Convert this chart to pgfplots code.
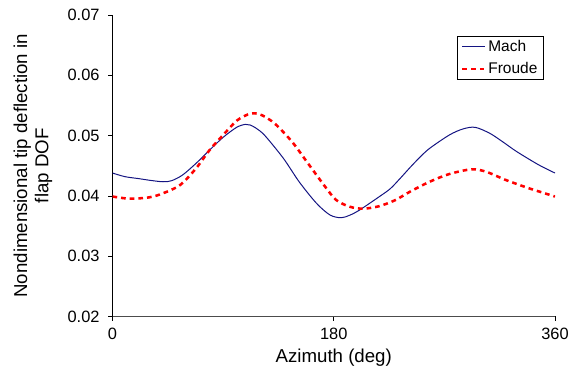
\documentclass[border=0pt]{standalone}
\usepackage{pgfplots}
\pgfplotsset{compat=1.18}
\usepackage{fontspec}
\setmainfont{Liberation Sans}
\definecolor{machblue}{RGB}{20,20,130}
\begin{document}
\begin{tikzpicture}
\useasboundingbox (-84.4pt,-43.1pt) rectangle (343.9pt,237.4pt);
\begin{axis}[
  at={(0,0)}, anchor=south west,
  scale only axis,
  width=331.9pt, height=226.1pt,
  xmin=0, xmax=360, ymin=0.02, ymax=0.07,
  axis x line=bottom, axis y line=left,
  axis line style={-, black, line width=0.8pt},
  x axis line style={black!70},
  tick align=outside,
  major tick length=3.2pt,
  tick style={black, line width=0.6pt},
  xtick={0,180,360},
  ytick={0.02,0.03,0.04,0.05,0.06,0.07},
  /pgf/number format/assume math mode=true,
  yticklabel style={/pgf/number format/fixed, /pgf/number format/fixed zerofill, /pgf/number format/precision=2, xshift=-3pt},
  xticklabel style={yshift=-2pt},
  scaled y ticks=false,
  ticklabel style={font=\fontsize{12.3}{14}\selectfont},
  xlabel={Azimuth (deg)},
  ylabel={Nondimensional tip deflection in\\flap DOF},
  every axis x label/.style={at={(axis description cs:0.5,-0.138)}, anchor=center, font=\fontsize{14}{16}\selectfont},
  every axis y label/.style={at={(axis description cs:-0.18,0.5)}, anchor=center, rotate=90, align=center, font=\fontsize{14}{16}\selectfont},
  legend style={at={(axis description cs:0.778,0.930)}, anchor=north west, draw=black, line width=0.6pt,
    inner xsep=3pt, inner ysep=1pt, row sep=4pt, column sep=0pt,
    nodes={inner sep=1.5pt},
    font=\fontsize{11.6}{13.5}\selectfont},
  legend cell align=left,
  legend image code/.code={\draw[#1] (0pt,0pt) -- (17pt,0pt);},
]
\addplot[machblue, line width=0.75pt, smooth] coordinates {
(0,0.0438) (10,0.0432) (22,0.04285) (30,0.0426) (41,0.04235) (48,0.04252) (57,0.04347)
(68,0.04541) (79,0.04761) (90,0.04972) (101,0.05138) (108,0.05187) (112,0.05176) (117,0.05121)
(124,0.05000) (139,0.04624) (152,0.04230) (166,0.03877) (177,0.03683) (186,0.03638) (193,0.0368)
(201,0.03766) (217,0.03987) (226,0.04120) (234,0.04290) (242,0.04470) (250,0.04640) (258,0.04789) (274,0.05010)
(285,0.0511) (295,0.05138) (307,0.05038) (318,0.0489) (329,0.04733) (347,0.04512) (360,0.0438)
};
\addlegendentry{Mach}
\addplot[red, line width=1.9pt, dash pattern=on 3.5pt off 3pt, smooth] coordinates {
(0,0.0399) (14,0.03954) (30,0.03977) (41,0.04043) (55,0.04181) (68,0.04458) (79,0.04761)
(90,0.0501) (101,0.05247) (110,0.05350) (116,0.0537) (122,0.05335) (132,0.0520) (146,0.0490)
(159,0.04541) (173,0.04153) (182,0.03932) (193,0.03821) (204,0.03788) (217,0.03830) (230,0.03930)
(242,0.0407) (258,0.04235) (274,0.04363) (292,0.04441) (304,0.04401) (320,0.04264) (339,0.04126) (360,0.0399)
};
\addlegendentry{Froude}
\end{axis}
\end{tikzpicture}
\end{document}
